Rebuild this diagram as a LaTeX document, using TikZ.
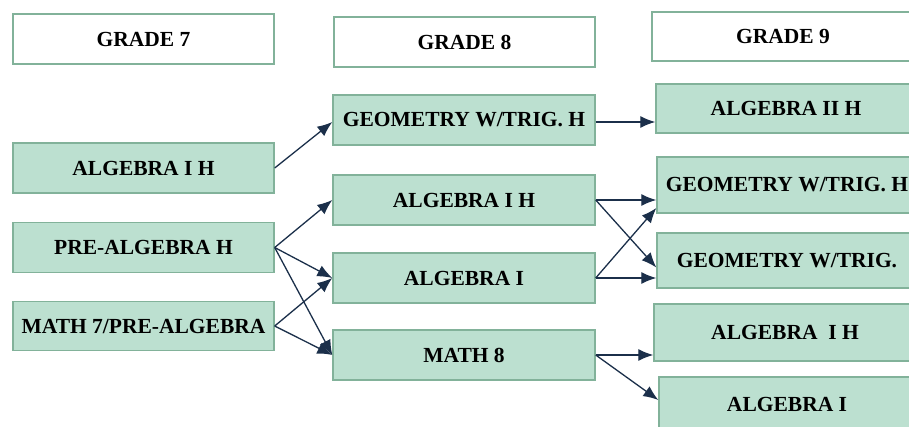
\documentclass[tikz,border=0pt]{standalone}
\usepackage{fontspec}
\setmainfont{Liberation Serif}
\usetikzlibrary{arrows.meta,calc}
\definecolor{boxfill}{HTML}{BCE0D0}
\definecolor{boxline}{HTML}{82B29A}
\definecolor{arrowc}{HTML}{1B2F4A}
\tikzset{
  base/.style={draw=boxline, line width=1.4pt, inner sep=0pt, anchor=center,
    font=\fontsize{21.5}{24}\selectfont\bfseries, text=black},
  head/.style={base, fill=white},
  course/.style={base, fill=boxfill},
  link/.style={draw=arrowc, line width=1.3pt, -{Latex[length=15pt,width=12pt]}},
}
\begin{document}
\begin{tikzpicture}[x=1pt,y=-1pt]
\useasboundingbox (0,0) rectangle (909,427);
\begin{scope}
\clip (0,0) rectangle (909,427);
% headers
\node[head, minimum width=261pt, minimum height=50pt] (g7h) at (143.5,39) {GRADE 7};
\node[head, minimum width=261pt, minimum height=50pt] (g8h) at (464.5,42) {GRADE 8};
\node[head, minimum width=262pt, minimum height=49pt] (g9h) at (783,36.5) {GRADE 9};
% grade 7
\node[course, minimum width=261pt, minimum height=50pt] (a7) at (143.5,168) {ALGEBRA I H};
\node[course, minimum width=261pt, minimum height=50pt] (p7) at (143.5,247.5) {PRE-ALGEBRA H};
\node[course, minimum width=261pt, minimum height=49pt] (m7) at (143.5,326) {MATH 7/PRE-ALGEBRA};
% grade 8
\node[course, minimum width=262pt, minimum height=50pt] (geo8) at (464,120) {GEOMETRY W/TRIG. H};
\node[course, minimum width=262pt, minimum height=50pt] (a8h) at (464,200) {ALGEBRA I H};
\node[course, minimum width=262pt, minimum height=50pt] (a8) at (464,278) {ALGEBRA I};
\node[course, minimum width=262pt, minimum height=50pt] (m8) at (464,355) {MATH 8};
% grade 9
\node[course, minimum width=260pt, minimum height=49pt] (a9ii) at (786,108.5) {ALGEBRA II H};
\node[course, minimum width=260pt, minimum height=56pt] (geo9h) at (787,185) {GEOMETRY W/TRIG. H};
\node[course, minimum width=260pt, minimum height=55pt] (geo9) at (787,260.5) {GEOMETRY W/TRIG.};
\node[course, minimum width=262pt, minimum height=57pt] (a9h) at (785,332.5) {ALGEBRA\hspace{0.25em} I H};
\node[course, minimum width=256pt, minimum height=54pt] (a9) at (787,404) {ALGEBRA I};
\end{scope}
% connectors grade 7 -> grade 8
\draw[link] (a7.east) -- ([yshift=-2pt]geo8.west);
\draw[link] (p7.east) -- (a8h.west);
\draw[link] (p7.east) -- (a8.west);
\draw[link] (p7.east) -- (m8.west);
\draw[link] (m7.east) -- (a8.west);
\draw[link] (m7.east) -- (m8.west);
% connectors grade 8 -> grade 9
\draw[link] ([yshift=-2pt]geo8.east) -- ([yshift=-2pt]geo8.east -| a9ii.west);
\draw[link] (a8h.east) -- (a8h.east -| geo9h.west);
\draw[link] (a8h.east) -- ([yshift=-7pt]geo9.west);
\draw[link] (a8.east) -- ([yshift=-23pt]geo9h.west);
\draw[link] (a8.east) -- (a8.east -| geo9.west);
\draw[link] (m8.east) -- (m8.east -| a9h.west);
\draw[link] (m8.east) -- ([yshift=4pt]a9.west);
\end{tikzpicture}
\end{document}
